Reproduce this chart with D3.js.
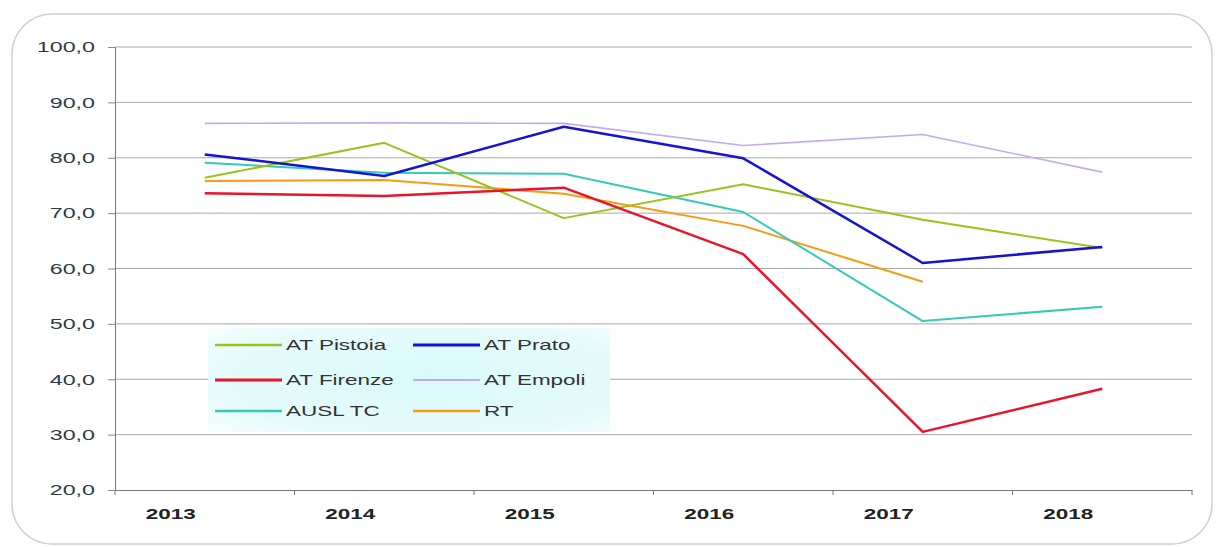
<!DOCTYPE html>
<html>
<head>
<meta charset="utf-8">
<script src="https://cdn.jsdelivr.net/npm/d3@7"></script>
<style>
  body { margin: 0; background: #fff; }
  svg { display: block; font-family: "Liberation Sans", Arial, sans-serif; }
</style>
</head>
<body>
<div id="chart"></div>
<script>
var years = ["2013", "2014", "2015", "2016", "2017", "2018"];
var yTicks = [20, 30, 40, 50, 60, 70, 80, 90, 100];

var pistoia = [76.4, 82.7, 69.1, 75.2, 68.8, 63.7];
var prato   = [80.6, 76.7, 85.6, 79.9, 61.0, 63.9];
var firenze = [73.6, 73.1, 74.6, 62.6, 30.5, 38.3];
var empoli  = [86.2, 86.3, 86.2, 82.2, 84.2, 77.4];
var ausl    = [79.1, 77.3, 77.1, 70.2, 50.5, 53.1];
var rt      = [75.8, 76.0, 73.5, 67.7, 57.6, null];

var names  = ["AT Pistoia", "AT Prato", "AT Firenze", "AT Empoli", "AUSL TC", "RT"];
var colors = ["#99c31c", "#1414d2", "#e8142a", "#c3a9ee", "#37c9b7", "#f99a12"];
var widths = [2, 2.5, 2.5, 1.6, 2, 2];

var series = [pistoia, prato, firenze, empoli, ausl, rt];

var width = 1224, height = 547;
var margin = {left: 115, top: 47, right: 32, bottom: 57};

var svg = d3.select("#chart").append("svg")
  .attr("width", width)
  .attr("height", height);

// outer rounded frame
svg.append("rect")
  .attr("x", 12).attr("y", 14)
  .attr("width", 1200).attr("height", 530)
  .attr("rx", 40).attr("ry", 40)
  .attr("fill", "#fff")
  .attr("stroke", "#cfcfcf")
  .attr("stroke-width", 1.5);

var x = d3.scaleBand()
  .domain(years)
  .range([margin.left, width - margin.right]);

var y = d3.scaleLinear()
  .domain([20, 100])
  .range([height - margin.bottom, margin.top]);

// gridlines
svg.append("g")
  .selectAll("line")
  .data(yTicks.slice(1))
  .enter().append("line")
  .attr("x1", margin.left)
  .attr("x2", width - margin.right)
  .attr("y1", function(d) { return y(d); })
  .attr("y2", function(d) { return y(d); })
  .attr("stroke", "#a8a8a8")
  .attr("stroke-width", 1);

// y axis
var yAxis = d3.axisLeft(y)
  .tickValues(yTicks)
  .tickSize(7)
  .tickPadding(13)
  .tickFormat(function(d) { return d3.format(".1f")(d).replace(".", ","); });

var gy = svg.append("g")
  .attr("transform", "translate(" + margin.left + ",0)")
  .call(yAxis);
gy.select(".domain").attr("stroke", "#777");
gy.selectAll(".tick line").attr("stroke", "#888");
gy.selectAll(".tick text")
  .attr("class", "wide")
  .attr("fill", "#2d3a48")
  .style("font-family", "'Liberation Sans', Arial, sans-serif")
  .style("font-size", "15px");

// x axis
var xAxis = d3.axisBottom(x).tickSize(0).tickFormat("");
var gx = svg.append("g")
  .attr("transform", "translate(0," + (height - margin.bottom) + ")")
  .call(xAxis);
gx.select(".domain").attr("stroke", "#777");

// tick marks at band boundaries
var bounds = years.map(function(d) { return x(d); }).concat([x(years[years.length - 1]) + x.bandwidth()]);
gx.selectAll(".bound")
  .data(bounds)
  .enter().append("line")
  .attr("x1", function(d) { return d; })
  .attr("x2", function(d) { return d; })
  .attr("y1", 0).attr("y2", 5)
  .attr("stroke", "#777");

gx.selectAll(".yr")
  .data(years)
  .enter().append("text")
  .attr("class", "wide")
  .attr("x", function(d) { return x(d) + x.bandwidth() / 2 - 34; })
  .attr("y", 29)
  .attr("text-anchor", "middle")
  .attr("fill", "#222")
  .style("font-size", "14.5px")
  .style("font-weight", "bold")
  .text(function(d) { return d; });

// lines
var line = d3.line()
  .defined(function(d) { return d != null; })
  .x(function(d, i) { return x(years[i]) + x.bandwidth() / 2; })
  .y(function(d) { return y(d); });

var drawOrder = [3, 5, 4, 0, 2, 1];
drawOrder.forEach(function(k) {
  svg.append("path")
    .datum(series[k])
    .attr("d", line)
    .attr("fill", "none")
    .attr("stroke", colors[k])
    .attr("stroke-width", widths[k])
    .attr("stroke-linejoin", "round");
});

// legend
var defs = svg.append("defs");
var grad = defs.append("radialGradient")
  .attr("id", "lg")
  .attr("cx", "55%").attr("cy", "50%").attr("r", "75%");
grad.append("stop").attr("offset", "0%").attr("stop-color", "#d9fafa");
grad.append("stop").attr("offset", "70%").attr("stop-color", "#e6fbfb");
grad.append("stop").attr("offset", "100%").attr("stop-color", "#f7fefe");

var legend = svg.append("g");
legend.append("rect")
  .attr("x", 208).attr("y", 328)
  .attr("width", 402).attr("height", 104)
  .attr("fill", "url(#lg)");

var colX = [215, 413];
var rowY = [345, 380, 411];
names.forEach(function(n, i) {
  var cx = colX[i % 2], cy = rowY[Math.floor(i / 2)];
  legend.append("line")
    .attr("x1", cx).attr("x2", cx + 67)
    .attr("y1", cy).attr("y2", cy)
    .attr("stroke", colors[i])
    .attr("stroke-width", widths[i] + 0.5);
  legend.append("text")
    .attr("class", "wide")
    .attr("x", cx + 71)
    .attr("y", cy + 5)
    .attr("fill", "#333")
    .style("font-size", "14.5px")
    .text(n);
});

// the original text is horizontally stretched
svg.selectAll("text.wide").each(function() {
  var w = this.getComputedTextLength();
  d3.select(this)
    .attr("textLength", w * 1.55)
    .attr("lengthAdjust", "spacingAndGlyphs");
});
</script>
</body>
</html>
